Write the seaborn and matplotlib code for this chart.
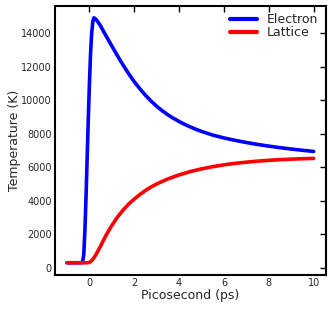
import pandas as pd
import matplotlib
matplotlib.use("Agg")
import matplotlib.pyplot as plt
import seaborn as sns

# electron temperature (K) vs time (ps)
t_elec = [-1.0, -0.5, -0.35, -0.3, -0.25, -0.2, -0.15, -0.1, -0.05, 0.0, 0.05, 0.1,
          0.15, 0.2, 0.25, 0.3, 0.4, 0.5, 0.75, 1.0, 1.25, 1.5, 1.75, 2.0, 2.25,
          2.5, 2.75, 3.0, 3.25, 3.5, 3.75, 4.0, 4.25, 4.5, 4.75, 5.0, 5.5, 6.0,
          6.5, 7.0, 7.5, 8.0, 8.5, 9.0, 9.5, 10.0]
T_elec = [300, 300, 300, 330, 800, 2200, 4200, 6500, 8800, 10900, 12700, 13950,
          14650, 14910, 14870, 14810, 14630, 14420, 13820, 13230, 12650, 12100, 11580, 11100, 10680,
          10290, 9945, 9635, 9365, 9125, 8915, 8725, 8555, 8400, 8260, 8135, 7915, 7745,
          7600, 7472, 7358, 7256, 7165, 7083, 7008, 6940]

# lattice temperature (K) vs time (ps)
t_latt = [-1.0, -0.5, -0.1, 0.0, 0.1, 0.2, 0.3, 0.5, 0.75, 1.0, 1.25, 1.5, 1.75,
          2.0, 2.25, 2.5, 2.75, 3.0, 3.5, 4.0, 4.5, 5.0, 5.5, 6.0, 6.5, 7.0,
          7.5, 8.0, 8.5, 9.0, 9.5, 10.0]
T_latt = [300, 300, 300, 320, 420, 590, 800, 1300, 1960, 2520, 3020, 3440, 3800,
          4100, 4370, 4610, 4820, 5000, 5300, 5540, 5740, 5900, 6030, 6140, 6230, 6300,
          6360, 6410, 6450, 6480, 6505, 6525]

df = pd.concat([
    pd.DataFrame({"t": t_elec, "T": T_elec, "series": "Electron"}),
    pd.DataFrame({"t": t_latt, "T": T_latt, "series": "Lattice"}),
])

sns.set_style("white")
plt.rcParams["font.family"] = ["DejaVu Sans"]

fig = plt.figure(figsize=(3.33, 3.09), dpi=100)
ax = fig.add_axes([0.164, 0.11, 0.815, 0.872])
sns.lineplot(data=df, x="t", y="T", hue="series",
             palette={"Electron": "blue", "Lattice": "red"},
             linewidth=2.6, ax=ax)

ax.set_xlabel("Picosecond (ps)", fontsize=9, labelpad=1)
ax.set_ylabel("Temperature (K)", fontsize=9, labelpad=0)
ax.set_xticks([0, 2, 4, 6, 8, 10])
ax.set_yticks(range(0, 15000, 2000))
ax.tick_params(direction="in", length=4, width=1, labelsize=7, pad=2,
               top=True, right=True, color="black")
for s in ax.spines.values():
    s.set_linewidth(1.5)
    s.set_color("black")

leg = ax.legend(loc="upper right", frameon=False, fontsize=9,
                handlelength=2.2, borderaxespad=0.2, labelspacing=0.0)
for line in leg.get_lines():
    line.set_linewidth(3)

fig.savefig("out.png", dpi=100)
